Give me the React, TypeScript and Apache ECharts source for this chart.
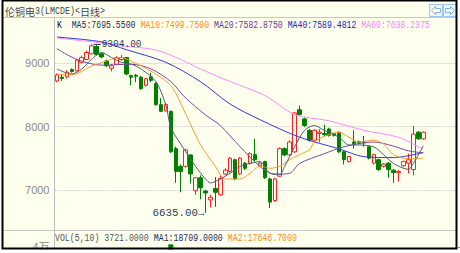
import React, { useEffect, useRef } from 'react';
import * as echarts from 'echarts';

const priceTicks = [7000, 8000, 9000];
const slotCount = 81;
const categories = Array.from({ length: slotCount }, (_, i) => String(i + 1));

// [open, close, low, high]
const ohlc: number[][] = [
  [8720, 8815, 8700, 8840], [8780, 8760, 8720, 8830], [8785, 8860, 8760, 8890], [8900, 8870, 8850, 8920],
  [8880, 9050, 8870, 9070], [9015, 9090, 9000, 9120], [9060, 9170, 9050, 9200], [9150, 9275, 9140, 9304],
  [9265, 9140, 9120, 9290], [9150, 9100, 9080, 9170], [9035, 8960, 8940, 9060], [8920, 8960, 8870, 8990],
  [8985, 9090, 8970, 9110], [9060, 9090, 9040, 9130], [9090, 8830, 8810, 9100], [8805, 8780, 8650, 8820],
  [8810, 8795, 8700, 8830], [8780, 8600, 8580, 8800], [8650, 8755, 8630, 8770], [8785, 8730, 8700, 8850],
  [8680, 8345, 8330, 8700], [8345, 8240, 8230, 8450], [8245, 8350, 8240, 8370], [8240, 7600, 7580, 8250],
  [7650, 7290, 7110, 7680], [7370, 7290, 6960, 7400], [7370, 7630, 7350, 7650], [7550, 7250, 7100, 7560],
  [6985, 7190, 6920, 7200], [7190, 7030, 6850, 7230], [6980, 6950, 6635, 7000], [6840, 6880, 6720, 6920],
  [7020, 6960, 6730, 7200], [6920, 7180, 6900, 7230], [7250, 7310, 7230, 7340], [7290, 7500, 7270, 7520],
  [7475, 7170, 7150, 7490], [7250, 7500, 7230, 7520], [7420, 7340, 7310, 7440], [7420, 7575, 7400, 7590],
  [7555, 7475, 7450, 7805], [7380, 7420, 7360, 7440], [7445, 7190, 7170, 7460], [7170, 6805, 6710, 7190],
  [6830, 7170, 6810, 7190], [7215, 7650, 7200, 7670], [7650, 7550, 7530, 7670], [7550, 7755, 7530, 7780],
  [7600, 8215, 7580, 8230], [8265, 8190, 8170, 8330], [8120, 8015, 7990, 8140], [7940, 7785, 7760, 7960],
  [7785, 7940, 7770, 7960], [7890, 7910, 7750, 7960], [7890, 7870, 7840, 8030], [7960, 7860, 7840, 7980],
  [7885, 7860, 7840, 7900], [7910, 7600, 7580, 7920], [7600, 7475, 7400, 7610], [7445, 7525, 7430, 7540],
  [7755, 7730, 7650, 7940], [7760, 7745, 7720, 7780], [7760, 7740, 7680, 7850], [7680, 7500, 7480, 7700],
  [7420, 7555, 7400, 7570], [7475, 7320, 7300, 7490], [7370, 7405, 7350, 7420], [7420, 7320, 7190, 7440],
  [7310, 7270, 7110, 7330], [7270, 7290, 7130, 7310], [7380, 7445, 7360, 7460], [7420, 7475, 7260, 7570],
  [7320, 7880, 7230, 8010], [7910, 7805, 7790, 7930], [7805, 7910, 7790, 7920],
];

const ma5 = [[0, 8908], [3, 8830], [5, 8908], [7, 9062], [9, 9170], [11, 9092], [13, 9015], [15, 8985], [17, 8908],
  [20, 8708], [22, 8340], [23, 7985], [25, 7723], [28, 7370], [30, 7170], [31, 7108], [33, 7170], [35, 7262],
  [37, 7370], [39, 7415], [41, 7446], [43, 7262], [45, 7246], [46, 7370], [48, 7677], [50, 7938], [52, 8015],
  [54, 7938], [57, 7830], [59, 7708], [61, 7708], [64, 7677], [66, 7554], [68, 7415], [71, 7323], [72, 7415], [74, 7695]];
const ma10 = [[0, 8830], [3, 8815], [7, 8955], [11, 9060], [13, 9090], [15, 9030], [19, 8875], [23, 8645], [26, 8200],
  [29, 7710], [32, 7370], [34, 7170], [37, 7170], [39, 7260], [41, 7370], [43, 7340], [45, 7370], [47, 7475],
  [49, 7555], [51, 7630], [52, 7755], [55, 7875], [57, 7910], [59, 7830], [61, 7755], [64, 7785], [66, 7720],
  [68, 7555], [71, 7490], [74, 7500]];
const ma20 = [[0, 9230], [4, 9060], [9, 8970], [15, 8985], [19, 8910], [23, 8710], [26, 8450], [30, 8185], [33, 8015],
  [37, 7680], [41, 7370], [44, 7245], [47, 7260], [49, 7415], [54, 7570], [58, 7680], [64, 7755], [68, 7690],
  [71, 7615], [74, 7583]];
const ma40 = [[0, 9415], [9, 9338], [14, 9215], [22, 9015], [29, 8708], [35, 8354], [41, 8108], [49, 7831],
  [57, 7646], [62, 7523], [68, 7508], [74, 7589]];
const ma60 = [[0, 9400], [9, 9320], [15, 9260], [20, 9210], [25, 9060], [29, 8910], [35, 8710], [42, 8490],
  [48, 8190], [55, 8090], [62, 7940], [69, 7830], [74, 7638]];
const volume = [[23, 45000]];

const titleParts = [
  { t: '伦铜电', cjk: true }, { t: '3(LMCDE)<', cjk: false }, { t: '日线', cjk: true }, { t: '>', cjk: false },
];
const legendItems = [
  { t: 'K', c: '#000000' },
  { t: 'MA5:7695.5500', c: '#1c2c5c' },
  { t: 'MA10:7499.7500', c: '#ff8c1a' },
  { t: 'MA20:7582.8750', c: '#6a3d9a' },
  { t: 'MA40:7589.4812', c: '#2323c8' },
  { t: 'MA60:7638.2375', c: '#ff80ff' },
];
const volItems = [
  { t: 'VOL(5,10) 3721.0000', c: '#555555' },
  { t: 'MA1:18709.0000', c: '#1c2c5c' },
  { t: 'MA2:17646.7000', c: '#ff8c1a' },
];

const MONO = '"Liberation Mono", "DejaVu Sans Mono", monospace';
const CJK = '"Noto Sans CJK SC", sans-serif';

let measureCtx: CanvasRenderingContext2D | null = null;
function measure(size: number, family: string, s: string) {
  if (!measureCtx) measureCtx = document.createElement('canvas').getContext('2d');
  measureCtx!.font = `${size}px ${family}`;
  return measureCtx!.measureText(s).width;
}

function richLine(items: { t: string; c: string }[], sep: string[]) {
  const rich: Record<string, any> = {};
  let text = '';
  let plain = '';
  items.forEach((it, i) => {
    rich['s' + i] = { fill: it.c, color: it.c, fontSize: 10, fontFamily: MONO };
    text += (i > 0 ? `{g|${sep[i - 1]}}` : '') + `{s${i}|${it.t}}`;
    plain += (i > 0 ? sep[i - 1] : '') + it.t;
  });
  rich.g = { fontSize: 10, fontFamily: MONO };
  return { text, rich, width: measure(10, MONO, plain) };
}

export default function App() {
  const ref = useRef<HTMLDivElement>(null);
  useEffect(() => {
    const chart = echarts.init(ref.current!, null, { renderer: 'svg' });
    const bw = 4.95;
    const gridLeft = 54.5;
    const gridWidth = slotCount * bw;
    chart.setOption({
      animation: false,
      backgroundColor: '#FFFFEE',
      grid: [
        { left: gridLeft, top: -1, width: gridWidth, height: 260 },
        { left: gridLeft, top: 244, width: gridWidth, height: 53.7 },
      ],
      xAxis: [
        { type: 'category', data: categories, gridIndex: 0, boundaryGap: true, axisLine: { show: false }, axisTick: { show: false }, axisLabel: { show: false }, splitLine: { show: false } },
        { type: 'category', data: categories, gridIndex: 1, boundaryGap: true, axisLine: { show: false }, axisTick: { show: false }, axisLabel: { show: false }, splitLine: { show: false } },
      ],
      yAxis: [
        {
          type: 'value', gridIndex: 0, min: 6000, max: 10000, interval: 1000,
          axisLine: { show: false }, axisTick: { show: false },
          axisLabel: { color: '#8a8a8a', fontSize: 11, fontFamily: '"Liberation Sans", sans-serif', margin: 5, formatter: (v: number) => (priceTicks.includes(v) ? String(v) : '') },
          splitLine: { show: true, lineStyle: { color: '#d6d6d6', width: 1, type: [2, 1] } },
        },
        {
          type: 'value', gridIndex: 1, min: 0, max: 46000, interval: 40000,
          axisLine: { show: false }, axisTick: { show: false },
          axisLabel: { color: '#8a8a8a', fontSize: 11, fontFamily: CJK, margin: 5, formatter: (v: number) => (v === 40000 ? '4万' : '') },
          splitLine: { show: false },
        },
      ],
      series: [
        {
          type: 'candlestick', xAxisIndex: 0, yAxisIndex: 0, data: ohlc, barWidth: 4,
          itemStyle: { color: '#FFFFEE', color0: '#008000', borderColor: '#ff2020', borderColor0: '#008000', borderWidth: 1 },
          z: 3,
        },
        { type: 'line', data: ma60, smooth: 0.3, symbol: 'none', lineStyle: { color: '#ff88ff', width: 1 }, z: 4 },
        { type: 'line', data: ma40, smooth: 0.3, symbol: 'none', lineStyle: { color: '#3333ee', width: 1 }, z: 4 },
        { type: 'line', data: ma20, smooth: 0.3, symbol: 'none', lineStyle: { color: '#7a4aa6', width: 1 }, z: 4 },
        { type: 'line', data: ma10, smooth: 0.3, symbol: 'none', lineStyle: { color: '#ff9933', width: 1 }, z: 4 },
        { type: 'line', data: ma5, smooth: 0.3, symbol: 'none', lineStyle: { color: '#48607a', width: 1 }, z: 4 },
        { type: 'bar', xAxisIndex: 1, yAxisIndex: 1, data: volume, barWidth: 5, itemStyle: { color: '#008000' } },
      ],
    });

    let hiIdx = 0, loIdx = 0;
    ohlc.forEach((r, i) => {
      if (r[3] > ohlc[hiIdx][3]) hiIdx = i;
      if (r[2] < ohlc[loIdx][2]) loIdx = i;
    });
    const hi = ohlc[hiIdx][3];
    const lo = ohlc[loIdx][2];
    const pHi = chart.convertToPixel({ xAxisIndex: 0, yAxisIndex: 0 }, [hiIdx, hi]) as number[];
    const pLo = chart.convertToPixel({ xAxisIndex: 0, yAxisIndex: 0 }, [loIdx, lo]) as number[];

    const leg = richLine(legendItems, ['  ', ' ', ' ', ' ', ' ']);
    const vol = richLine(volItems, [' ', ' ']);
    const legScale = 373 / leg.width;
    const volScale = 242 / vol.width;

    // title: CJK glyphs 10px wide, ASCII glyphs 5px wide
    const titleColor = '#444444';
    const titleEls: any[] = [];
    let tx = 5;
    titleParts.forEach((p) => {
      if (p.cjk) {
        titleEls.push({ type: 'text', z: 100, x: tx, y: 11, style: { text: p.t, fontSize: 10, fontFamily: CJK, fill: titleColor, textVerticalAlign: 'middle', verticalAlign: 'middle' } });
        tx += p.t.length * 10;
      } else {
        titleEls.push({ type: 'text', z: 100, x: tx, y: 11, scaleX: 5 / 6, style: { text: p.t, fontSize: 10, fontFamily: MONO, fill: titleColor, textVerticalAlign: 'middle', verticalAlign: 'middle' } });
        tx += p.t.length * 5;
      }
    });

    const hiText = hi.toFixed(2);
    const loText = lo.toFixed(2) + '→';
    const hiScale = 40 / measure(11, MONO, hiText);
    const loScale = 52 / measure(11, MONO, loText);

    const annColor = '#2c3e5c';
    const Z = 100;

    chart.setOption({
      graphic: [
        { type: 'line', z: Z, shape: { x1: 2, y1: 17.5, x2: 457, y2: 17.5 }, style: { stroke: '#c8c8c8', lineWidth: 1 } },
        { type: 'line', z: Z, shape: { x1: 54.5, y1: 18, x2: 54.5, y2: 249 }, style: { stroke: '#bcbcbc', lineWidth: 1 } },
        { type: 'line', z: Z, shape: { x1: 2, y1: 230.5, x2: 457, y2: 230.5 }, style: { stroke: '#c8c8c8', lineWidth: 1 } },
        ...titleEls,
        { type: 'rect', z: Z, shape: { x: 429.5, y: 4.5, width: 13, height: 12 }, style: { fill: '#eef6ff', stroke: '#9cc8f0', lineWidth: 1 } },
        { type: 'rect', z: Z, shape: { x: 443.5, y: 4.5, width: 13, height: 12 }, style: { fill: '#eef6ff', stroke: '#9cc8f0', lineWidth: 1 } },
        { type: 'polygon', z: Z, shape: { points: [[431.5, 10.5], [435.5, 6.5], [435.5, 8.5], [440.5, 8.5], [440.5, 12.5], [435.5, 12.5], [435.5, 14.5]] }, style: { fill: '#ffffff', stroke: '#7fb4e6', lineWidth: 1 } },
        { type: 'polygon', z: Z, shape: { points: [[454.5, 10.5], [450.5, 6.5], [450.5, 8.5], [445.5, 8.5], [445.5, 12.5], [450.5, 12.5], [450.5, 14.5]] }, style: { fill: '#ffffff', stroke: '#7fb4e6', lineWidth: 1 } },
        { type: 'text', z: Z, x: 57, y: 25, scaleX: legScale, style: { text: leg.text, rich: leg.rich, textVerticalAlign: 'middle', verticalAlign: 'middle' } },
        { type: 'text', z: Z, x: 55, y: 238, scaleX: volScale, style: { text: vol.text, rich: vol.rich, textVerticalAlign: 'middle', verticalAlign: 'middle' } },
        { type: 'line', z: Z, shape: { x1: pHi[0] + 2, y1: pHi[1] + 0.5, x2: pHi[0] + 9, y2: pHi[1] + 0.5 }, style: { stroke: annColor, lineWidth: 1 } },
        { type: 'text', z: Z, x: pHi[0] + 10, y: pHi[1], scaleX: hiScale, style: { text: hiText, fontSize: 11, fontFamily: MONO, fill: annColor, textVerticalAlign: 'middle', verticalAlign: 'middle' } },
        { type: 'text', z: Z, x: pLo[0] - 1, y: pLo[1], scaleX: loScale, style: { text: loText, fontSize: 11, fontFamily: MONO, fill: annColor, textAlign: 'right', align: 'right', textVerticalAlign: 'middle', verticalAlign: 'middle' } },
        { type: 'rect', z: Z + 1, shape: { x: 0, y: 249.5, width: 460, height: 4 }, style: { fill: '#ffffff' } },
        { type: 'rect', z: Z + 1, shape: { x: 457.5, y: 0, width: 3, height: 253 }, style: { fill: '#ffffff' } },
        { type: 'rect', z: Z + 1, shape: { x: 0, y: 0, width: 1.5, height: 253 }, style: { fill: '#ffffff' } },
        { type: 'rect', z: Z + 2, shape: { x: 2.5, y: 0.5, width: 454, height: 248 }, style: { fill: 'none', stroke: '#000000', lineWidth: 2 } },
        { type: 'line', z: Z + 2, shape: { x1: 457.5, y1: 247.5, x2: 460, y2: 247.5 }, style: { stroke: '#888888', lineWidth: 1 } },
      ],
    });
    return () => chart.dispose();
  }, []);
  return <div ref={ref} style={{ position: 'fixed', left: 0, top: 0, width: 460, height: 253 }} />;
}
